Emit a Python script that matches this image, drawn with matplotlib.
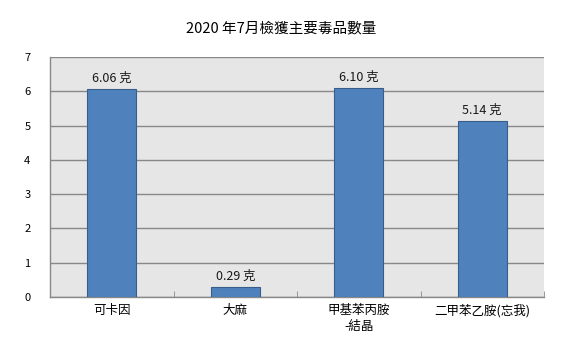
import matplotlib
matplotlib.use("Agg")
import matplotlib.pyplot as plt
import numpy as np

plt.rcParams['font.family'] = ['Noto Sans CJK TC', 'DejaVu Sans']

title = "2020 年7月檢獲主要毒品數量"
categories = ["可卡因", "大麻", "甲基苯丙胺\n-結晶", "二甲苯乙胺(忘我)"]
values = [6.06, 0.29, 6.10, 5.14]
labels = ["6.06 克", "0.29 克", "6.10 克", "5.14 克"]
yticks = [0, 1, 2, 3, 4, 5, 6, 7]

fig = plt.figure(figsize=(5.71, 3.53), dpi=100)
ax = fig.add_axes([50/571, 1-297/353, (544-50)/571, (297-57)/353])
ax.set_facecolor('#e6e6e6')

x = np.arange(len(categories))
bars = ax.bar(x, values, width=0.4, color='#4f81bd', edgecolor='#385d8a', linewidth=0.8, zorder=3)
for xi, v, lab in zip(x, values, labels):
    ax.text(xi, v + 0.12, lab, ha='center', va='bottom', fontsize=9, color='#1a1a1a', zorder=4)

ax.set_xlim(-0.5, len(categories) - 0.5)
ax.set_ylim(0, 7)
ax.set_yticks(yticks)
ax.set_yticklabels([str(t) for t in yticks], fontsize=8)
ax.yaxis.grid(True, color='#888888', linewidth=1.0, zorder=1)
ax.set_axisbelow(True)
ax.tick_params(axis='y', length=0, pad=14)

ax.set_xticks(x)
ax.set_xticklabels(categories, fontsize=9, linespacing=1.3)
ax.set_xticks(np.arange(len(categories) + 1) - 0.5, minor=True)
ax.tick_params(axis='x', which='major', length=0, pad=5)
ax.tick_params(axis='x', which='minor', length=4, direction='in', color='#888888')

for s in ['top', 'right']:
    ax.spines[s].set_visible(False)
for s in ['left', 'bottom']:
    ax.spines[s].set_color('#888888')
    ax.spines[s].set_linewidth(1.0)

fig.text(0.493, 1-28/353, title, ha='center', va='center', fontsize=10.5)

fig.savefig('out.png', dpi=100)
